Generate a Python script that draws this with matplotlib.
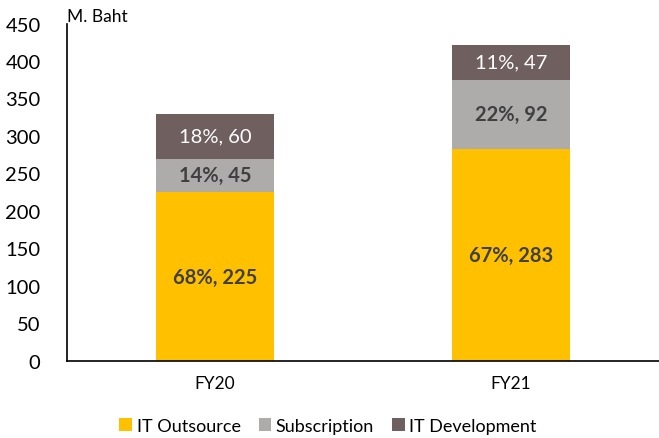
import matplotlib
matplotlib.use("Agg")
import matplotlib.pyplot as plt
import numpy as np

plt.rcParams['font.family'] = ['Lato', 'DejaVu Sans']

categories = ["FY20", "FY21"]
series_names = ["IT Outsource", "Subscription", "IT Development"]
outsource = [225, 283]
subscription = [45, 92]
development = [60, 47]
out_pct = ["68%", "67%"]
sub_pct = ["14%", "22%"]
dev_pct = ["18%", "11%"]
yticks = [0, 50, 100, 150, 200, 250, 300, 350, 400, 450]

colors = ["#FFC000", "#AEABAB", "#6F5F5E"]
label_colors = ["#404040", "#404040", "white"]
label_weights = ["bold", "bold", "normal"]

fig = plt.figure(figsize=(6.59, 4.39), dpi=100)
ax = fig.add_axes([67/659, 1 - 362/439, 592/659, (362 - 24.5)/439])

x = np.arange(len(categories))
bottom = np.zeros(len(categories))
series = [outsource, subscription, development]
pcts = [out_pct, sub_pct, dev_pct]
handles = []
for i, (vals, pc) in enumerate(zip(series, pcts)):
    bars = ax.bar(x, vals, width=0.4, bottom=bottom, color=colors[i], label=series_names[i])
    handles.append(bars)
    for j, v in enumerate(vals):
        ax.text(x[j], bottom[j] + v / 2, f"{pc[j]}, {v}", ha="center", va="center",
                fontsize=14.5, color=label_colors[i], fontweight=label_weights[i])
    bottom += np.array(vals)

ax.set_xlim(-0.5, 1.5)
ax.set_ylim(0, 450)
ax.set_yticks(yticks)
ax.set_xticks(x)
ax.set_xticklabels(categories)
ax.tick_params(axis="y", length=0, labelsize=14.5, pad=19)
ax.tick_params(axis="x", length=0, labelsize=12.5, pad=10)
for s in ["top", "right"]:
    ax.spines[s].set_visible(False)
ax.spines["left"].set_linewidth(1.2)
ax.spines["bottom"].set_linewidth(1.2)

ax.text(0.0, 1.0, "M. Baht", transform=ax.transAxes, ha="left", va="bottom", fontsize=12.5)

fig.legend(handles=handles, labels=series_names, loc="center", bbox_to_anchor=(328/659, 1 - 427/439),
           ncol=3, frameon=False, fontsize=13, handlelength=0.7, handleheight=0.7,
           handletextpad=0.25, columnspacing=1.0)

fig.savefig("out.png", dpi=100)
